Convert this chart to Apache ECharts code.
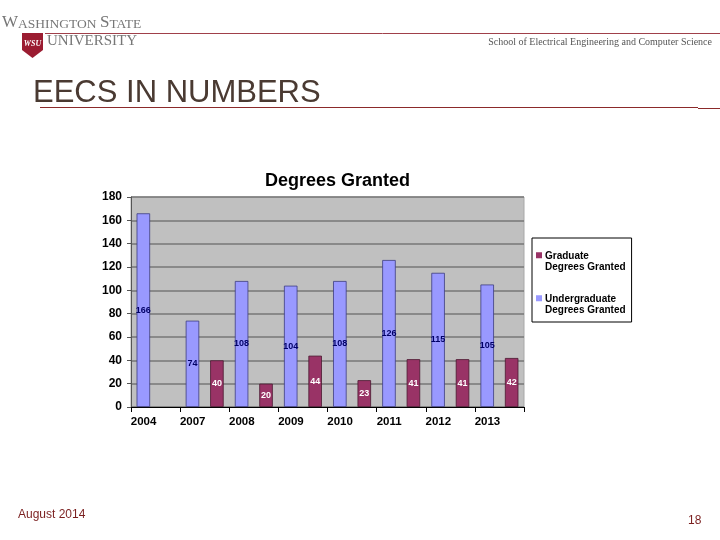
<!DOCTYPE html>
<html>
<head>
<meta charset="utf-8">
<script src="https://cdn.jsdelivr.net/npm/echarts@6/dist/echarts.min.js"></script>
<style>
  html, body { margin: 0; padding: 0; background: #fff; }
  #slide { width: 720px; height: 540px; }
</style>
</head>
<body>
<div id="slide"></div>
<script>
  /* data */
  var years = ['2004', '2007', '2008', '2009', '2010', '2011', '2012', '2013'];
  var undergrad = [166, 74, 108, 104, 108, 126, 115, 105];
  var graduate = [null, 40, 20, 44, 23, 41, 41, 42];
  var yTicks = { min: 0, max: 180, interval: 20 };

  var UG_NAME = 'Undergraduate Degrees Granted';
  var GR_NAME = 'Graduate Degrees Granted';

  var chart = echarts.init(document.getElementById('slide'), null, { renderer: 'canvas' });

  /* legend marker: small square on the first text line */
  var legendIcon = 'path://M0,2.5h6v6h-6Z M0,21.99h0.01v0.01h-0.01Z';

  var serif = 'Liberation Serif, Times New Roman, serif';

  var option = {
    backgroundColor: '#fff',
    animation: false,
    title: {
      text: 'Degrees Granted',
      left: 265,
      top: 172,
      padding: 0,
      textStyle: { fontFamily: 'Arial, Liberation Sans', fontSize: 18, fontWeight: 'bold', color: '#000' }
    },
    legend: {
      left: 532,
      top: 238,
      orient: 'vertical',
      data: [GR_NAME, UG_NAME],
      icon: legendIcon,
      itemWidth: 6,
      itemHeight: 22,
      itemGap: 21,
      padding: [13, 6, 6, 4],
      backgroundColor: '#fff',
      borderColor: '#000',
      borderWidth: 1,
      selectedMode: false,
      itemStyle: { borderWidth: 0 },
      formatter: function (name) {
        return name.replace(' Degrees', '\nDegrees');
      },
      textStyle: { fontFamily: 'Arial, Liberation Sans', fontSize: 10, fontWeight: 'bold', color: '#000', lineHeight: 11, padding: [0, 0, 0, -2] }
    },
    grid: {
      show: true,
      left: 131,
      right: 196,
      top: 197,
      bottom: 133,
      backgroundColor: '#C0C0C0',
      borderColor: '#A8A8A8',
      borderWidth: 1
    },
    xAxis: {
      type: 'category',
      data: years,
      axisLine: { lineStyle: { color: '#000', width: 1 } },
      axisTick: { show: true, length: 5, lineStyle: { color: '#000' } },
      axisLabel: {
        margin: 9,
        padding: [0, 24, 0, 0],
        fontFamily: 'Arial, Liberation Sans',
        fontSize: 11.5,
        fontWeight: 'bold',
        color: '#000'
      }
    },
    yAxis: {
      type: 'value',
      min: yTicks.min,
      max: yTicks.max,
      interval: yTicks.interval,
      axisLine: { show: true, lineStyle: { color: '#555', width: 1 } },
      axisTick: { show: true, length: 4, lineStyle: { color: '#555' } },
      axisLabel: {
        margin: 9,
        fontFamily: 'Arial, Liberation Sans',
        fontSize: 12,
        fontWeight: 'bold',
        color: '#000'
      },
      splitLine: { lineStyle: { color: '#777', width: 1.6 } }
    },
    series: [
      {
        name: UG_NAME,
        type: 'bar',
        data: undergrad,
        barWidth: 13.5,
        barGap: '81%',
        itemStyle: { color: '#9999FF', borderColor: '#3c3c80', borderWidth: 0.8 },
        label: {
          show: true,
          position: 'inside',
          color: '#000066',
          fontFamily: 'Arial, Liberation Sans',
          fontSize: 9,
          fontWeight: 'bold'
        }
      },
      {
        name: GR_NAME,
        type: 'bar',
        data: graduate,
        barWidth: 13.5,
        itemStyle: { color: '#993366', borderColor: '#4a1830', borderWidth: 0.8 },
        label: {
          show: true,
          position: 'inside',
          color: '#fff',
          fontFamily: 'Arial, Liberation Sans',
          fontSize: 9,
          fontWeight: 'bold'
        }
      }
    ],
    graphic: [
      /* header rule */
      { type: 'line', shape: { x1: 45, y1: 33.5, x2: 720, y2: 33.5 }, style: { stroke: '#a0404a', lineWidth: 1 }, z: 1 },
      /* university name */
      {
        type: 'text', left: 2, top: 14, z: 5,
        style: {
          text: '{a|W}{b|ASHINGTON }{a|S}{b|TATE}',
          rich: {
            a: { fontFamily: serif, fontSize: 17, fill: '#777', verticalAlign: 'bottom' },
            b: { fontFamily: serif, fontSize: 13.5, fill: '#777', verticalAlign: 'bottom' }
          }
        }
      },
      {
        type: 'text', left: 47, top: 34, z: 5,
        style: { text: 'UNIVERSITY', font: '15px ' + serif, fill: '#777' }
      },
      /* shield */
      {
        type: 'polygon', z: 5,
        shape: { points: [[22, 33], [43, 33], [43, 50], [32.5, 58], [22, 50]] },
        style: { fill: '#9b1c31' }
      },
      {
        type: 'text', x: 32.5, y: 44, z: 6,
        style: { text: 'WSU', font: 'italic bold 8px ' + serif, fill: '#fff', align: 'center', verticalAlign: 'middle' }
      },
      {
        type: 'text', right: 8, top: 37,
        style: { text: 'School of Electrical Engineering and Computer Science', font: '10px ' + serif, fill: '#555' }
      },
      /* slide title */
      {
        type: 'text', left: 33, top: 78,
        style: { text: 'EECS IN NUMBERS', font: '31px Liberation Sans, Arial, sans-serif', fill: '#4a3a32' }
      },
      { type: 'line', shape: { x1: 40, y1: 107.5, x2: 698, y2: 107.5 }, style: { stroke: '#8b2a2a', lineWidth: 1 } },
      { type: 'line', shape: { x1: 698, y1: 108.5, x2: 720, y2: 108.5 }, style: { stroke: '#8b2a2a', lineWidth: 1 } },
      /* footer */
      {
        type: 'text', left: 18, top: 509,
        style: { text: 'August 2014', font: '12px Liberation Sans, Arial, sans-serif', fill: '#7a1f1f' }
      },
      {
        type: 'text', left: 688, top: 515,
        style: { text: '18', font: '12px Liberation Sans, Arial, sans-serif', fill: '#7a1f1f' }
      }
    ]
  };

  chart.setOption(option);
</script>
</body>
</html>
